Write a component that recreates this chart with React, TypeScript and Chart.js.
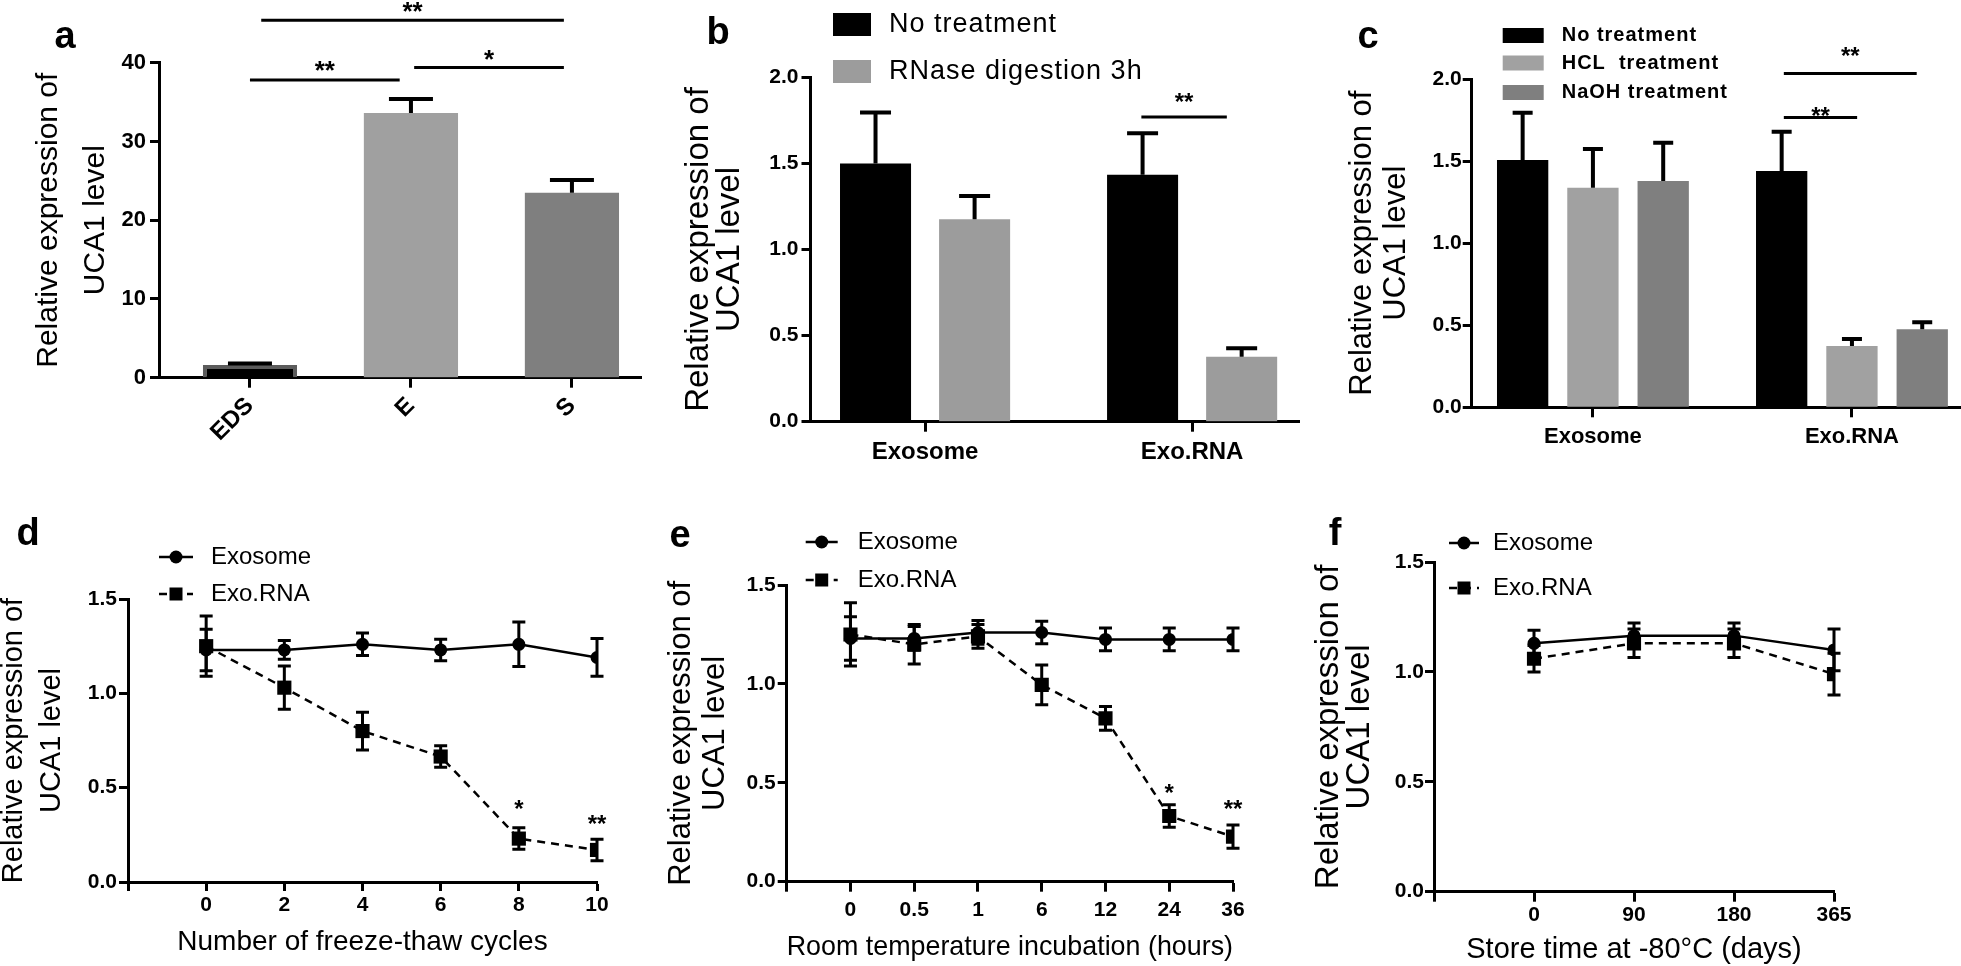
import React, { useEffect, useRef } from 'react';
import { Chart, registerables } from 'chart.js';

Chart.register(...registerables);

const FONT = 'Arial, "Liberation Sans", Helvetica, sans-serif';
Chart.defaults.font.family = FONT;
Chart.defaults.color = '#000000';

// ---------------- data ----------------
const yTitleLines = ['Relative expression of', 'UCA1 level'];

// a
const aCategories = ['EDS', 'E', 'S'];
const aValues = [1.6, 33.6, 23.5];
const aErrors = [0.2, 1.8, 1.6];
const aYTicks = [0, 10, 20, 30, 40];
const aSig = [
  { x0: 0.07, x1: 1.95, y: 45.4, label: '**', ty: 46.3 },
  { x0: 0.0, x1: 0.93, y: 37.8, label: '**', ty: 38.8 },
  { x0: 1.02, x1: 1.95, y: 39.4, label: '*', ty: 40.3 },
];

// b
const bCategories = ['Exosome', 'Exo.RNA'];
const bSeries = ['No treatment', 'RNase digestion 3h'];
const bNoTreatment = [1.5, 1.434];
const bNoTreatmentErr = [0.295, 0.241];
const bRNase = [1.175, 0.377];
const bRNaseErr = [0.135, 0.049];
const bcYTicks = [0, 0.5, 1, 1.5, 2];
const bSig = [{ x0: 0.81, x1: 1.13, y: 1.77, label: '**', ty: 1.85 }];

// c
const cCategories = ['Exosome', 'Exo.RNA'];
const cSeries = ['No treatment', 'HCL  treatment', 'NaOH treatment'];
const cNoTreatment = [1.506, 1.439];
const cNoTreatmentErr = [0.288, 0.24];
const cHCL = [1.337, 0.373];
const cHCLErr = [0.236, 0.043];
const cNaOH = [1.378, 0.475];
const cNaOHErr = [0.234, 0.043];
const cSig = [
  { x0: 0.737, x1: 1.25, y: 2.034, label: '**', ty: 2.133 },
  { x0: 0.737, x1: 1.02, y: 1.766, label: '**', ty: 1.768 },
];

// d, e, f
const lineSeries = ['Exosome', 'Exo.RNA'];
const defYTicks = [0, 0.5, 1, 1.5];

const dX = [0, 2, 4, 6, 8, 10];
const dExosome = [1.23, 1.23, 1.26, 1.23, 1.26, 1.19];
const dExosomeErr = [0.11, 0.05, 0.06, 0.057, 0.118, 0.1];
const dExoRNA = [1.25, 1.03, 0.8, 0.665, 0.23, 0.17];
const dExoRNAErr = [0.16, 0.115, 0.1, 0.057, 0.057, 0.057];
const dSig = [
  { tx: 8, ty: 0.38, label: '*' },
  { tx: 10, ty: 0.3, label: '**' },
];

const eLabels = ['0', '0.5', '1', '6', '12', '24', '36'];
const eExosome = [1.23, 1.23, 1.26, 1.26, 1.225, 1.225, 1.225];
const eExosomeErr = [0.11, 0.06, 0.06, 0.057, 0.057, 0.057, 0.057];
const eExoRNA = [1.25, 1.2, 1.24, 0.995, 0.826, 0.332, 0.228];
const eExoRNAErr = [0.16, 0.1, 0.06, 0.1, 0.06, 0.057, 0.059];
const eSig = [
  { tx: 5, ty: 0.44, label: '*' },
  { tx: 6, ty: 0.36, label: '**' },
];

const fLabels = ['0', '90', '180', '365'];
const fExosome = [1.13, 1.165, 1.165, 1.1];
const fExosomeErr = [0.06, 0.057, 0.057, 0.095];
const fExoRNA = [1.06, 1.13, 1.13, 0.99];
const fExoRNAErr = [0.06, 0.065, 0.065, 0.095];

// ---------------- layout ----------------
type Frame = { L: number; T: number; W: number; H: number; x0: number; x1: number; y0: number; y1: number };

const FRAMES: Record<string, Frame> = {
  a: { L: 0, T: 0, W: 655, H: 485, x0: 159, x1: 641, y0: 62.7, y1: 377.7 },
  b: { L: 665, T: 0, W: 635, H: 485, x0: 810.5, x1: 1300, y0: 77.3, y1: 421.7 },
  c: { L: 1310, T: 0, W: 651, H: 485, x0: 1471.7, x1: 1961, y0: 79, y1: 407.3 },
  d: { L: -10, T: 490, W: 650, H: 476, x0: 128, x1: 597, y0: 599, y1: 882 },
  e: { L: 640, T: 490, W: 660, H: 476, x0: 786.7, x1: 1233, y0: 585, y1: 881.7 },
  f: { L: 1300, T: 490, W: 661, H: 476, x0: 1434, x1: 1834, y0: 562, y1: 891.7 },
};

type AxisSpec = {
  xMin: number;
  xMax: number;
  xTicks: number[];
  xLabel: (v: number) => string;
  xFont: number;
  xPad: number;
  xTickLen: number;
  rotation: number;
  xTitle: null | { text: string; size: number; lineHeight: number; padBottom: number };
  yMax: number;
  yTicks: number[];
  yLabel: (v: number) => string;
  yFont: number;
  yPad: number;
  yTitle: { size: number; lineHeight: number; padTop: number };
};

function buildOptions(f: Frame, s: AxisSpec) {
  const yW = f.x0 - f.L;
  const xH = f.T + f.H - f.y1;
  const grid = (len: number) => ({
    display: true,
    drawOnChartArea: false,
    drawTicks: true,
    offset: false,
    tickLength: len,
    tickWidth: 3,
    tickColor: '#000000',
    color: '#000000',
  });
  return {
    animation: false,
    responsive: false,
    maintainAspectRatio: false,
    devicePixelRatio: 1,
    events: [],
    layout: { padding: { top: f.y0 - f.T, right: f.L + f.W - f.x1, left: 0, bottom: 0 } },
    plugins: { legend: { display: false }, tooltip: { enabled: false }, title: { display: false } },
    scales: {
      x: {
        type: 'linear',
        offset: false,
        min: s.xMin,
        max: s.xMax,
        bounds: 'data',
        afterBuildTicks: (sc: any) => {
          sc.ticks = s.xTicks.map((v) => ({ value: v }));
        },
        afterFit: (sc: any) => {
          sc.height = xH;
        },
        grid: grid(s.xTickLen),
        border: { display: true, color: '#000000', width: 3 },
        ticks: {
          autoSkip: false,
          minRotation: s.rotation,
          maxRotation: s.rotation,
          padding: s.xPad,
          color: '#000000',
          font: { family: FONT, size: s.xFont, weight: 'bold' },
          callback: (v: any) => s.xLabel(Number(v)),
        },
        title: s.xTitle
          ? {
              display: true,
              text: s.xTitle.text,
              color: '#000000',
              font: { family: FONT, size: s.xTitle.size, lineHeight: s.xTitle.lineHeight, weight: 'normal' },
              padding: { top: 0, bottom: s.xTitle.padBottom },
            }
          : { display: false },
      },
      y: {
        type: 'linear',
        offset: false,
        min: 0,
        max: s.yMax,
        bounds: 'data',
        afterBuildTicks: (sc: any) => {
          sc.ticks = s.yTicks.map((v) => ({ value: v }));
        },
        afterFit: (sc: any) => {
          sc.width = yW;
        },
        grid: grid(9),
        border: { display: true, color: '#000000', width: 3 },
        ticks: {
          padding: s.yPad,
          color: '#000000',
          font: { family: FONT, size: s.yFont, weight: 'bold' },
          callback: (v: any) => s.yLabel(Number(v)),
        },
        title: {
          display: true,
          text: yTitleLines,
          color: '#000000',
          font: { family: FONT, size: s.yTitle.size, lineHeight: s.yTitle.lineHeight, weight: 'normal' },
          padding: { top: s.yTitle.padTop, bottom: 0 },
        },
      },
    },
  };
}

// ---------------- plugins ----------------
function errorBarPlugin(upOnly: boolean, capWidth: number, lineWidth: number) {
  return {
    id: 'errorBars',
    afterDatasetsDraw(chart: any) {
      const ctx = chart.ctx;
      const ys = chart.scales.y;
      chart.data.datasets.forEach((ds: any, di: number) => {
        if (!ds.errors) return;
        const meta = chart.getDatasetMeta(di);
        ctx.save();
        ctx.strokeStyle = '#000000';
        ctx.lineWidth = lineWidth;
        ctx.setLineDash([]);
        meta.data.forEach((el: any, i: number) => {
          const v = ds.data[i].y;
          const e = ds.errors[i];
          const x = el.x;
          const top = ys.getPixelForValue(v + e);
          const bottom = upOnly ? ys.getPixelForValue(v) : ys.getPixelForValue(v - e);
          const hw = capWidth / 2;
          ctx.beginPath();
          ctx.moveTo(x, bottom);
          ctx.lineTo(x, top);
          ctx.moveTo(x - hw, top);
          ctx.lineTo(x + hw, top);
          if (!upOnly) {
            ctx.moveTo(x - hw, bottom);
            ctx.lineTo(x + hw, bottom);
          }
          ctx.stroke();
        });
        ctx.restore();
      });
    },
  };
}

function sigPlugin(items: any[], fontSize: number) {
  return {
    id: 'sigMarks',
    afterDraw(chart: any) {
      const { ctx } = chart;
      const xs = chart.scales.x;
      const ys = chart.scales.y;
      ctx.save();
      ctx.strokeStyle = '#000000';
      ctx.fillStyle = '#000000';
      ctx.lineWidth = 3;
      ctx.font = `bold ${fontSize}px ${FONT}`;
      ctx.textAlign = 'center';
      ctx.textBaseline = 'middle';
      items.forEach((it) => {
        let tx = it.tx;
        if (it.x0 !== undefined) {
          const y = ys.getPixelForValue(it.y);
          ctx.beginPath();
          ctx.moveTo(xs.getPixelForValue(it.x0), y);
          ctx.lineTo(xs.getPixelForValue(it.x1), y);
          ctx.stroke();
          if (tx === undefined) tx = (it.x0 + it.x1) / 2;
        }
        ctx.fillText(it.label, xs.getPixelForValue(tx), ys.getPixelForValue(it.ty));
      });
      ctx.restore();
    },
  };
}

type LegendStyle = {
  kind: 'box' | 'line';
  x: number;
  rows: number[];
  textX: number;
  fontSize: number;
  weight: string;
  spacing: number;
  boxW?: number;
  boxH?: number;
  symW?: number;
  circleR?: number;
  rectSize?: number;
};

function legendPlugin(o: LegendStyle) {
  return {
    id: 'panelLegend',
    afterDraw(chart: any) {
      const { ctx, chartArea } = chart;
      ctx.save();
      ctx.font = `${o.weight} ${o.fontSize}px ${FONT}`;
      ctx.textBaseline = 'middle';
      ctx.textAlign = 'left';
      chart.data.datasets.forEach((ds: any, i: number) => {
        const y = chartArea.top + o.rows[i];
        const x = chartArea.left + o.x;
        if (o.kind === 'box') {
          ctx.fillStyle = ds.backgroundColor;
          ctx.fillRect(x, y - (o.boxH as number) / 2, o.boxW as number, o.boxH as number);
        } else {
          const w = o.symW as number;
          ctx.strokeStyle = '#000000';
          ctx.lineWidth = ds.borderWidth;
          ctx.setLineDash(ds.borderDash || []);
          ctx.beginPath();
          ctx.moveTo(x, y);
          ctx.lineTo(x + w, y);
          ctx.stroke();
          ctx.setLineDash([]);
          ctx.fillStyle = '#000000';
          const cx = x + w / 2;
          if (ds.pointStyle === 'rect') {
            const s = o.rectSize as number;
            ctx.fillRect(cx - s / 2, y - s / 2, s, s);
          } else {
            ctx.beginPath();
            ctx.arc(cx, y, o.circleR as number, 0, Math.PI * 2);
            ctx.fill();
          }
        }
        ctx.fillStyle = '#000000';
        if ('letterSpacing' in ctx) (ctx as any).letterSpacing = `${o.spacing}px`;
        ctx.fillText(ds.label, chartArea.left + o.textX, y);
        if ('letterSpacing' in ctx) (ctx as any).letterSpacing = '0px';
      });
      ctx.restore();
    },
  };
}

const fmt1 = (v: number) => v.toFixed(1);
const fmt0 = (v: number) => String(Math.round(v));
const idx = (v: number) => Array.from({ length: v }, (_, i) => i);

// ---------------- configs ----------------
function configA() {
  const f = FRAMES.a;
  return {
    type: 'bar',
    data: {
      datasets: [
        {
          label: 'UCA1',
          data: aValues.map((y, i) => ({ x: i, y })),
          errors: aErrors,
          backgroundColor: ['#000000', '#a0a0a0', '#7f7f7f'],
          borderColor: ['#5c5c5c', '#a0a0a0', '#7f7f7f'],
          borderWidth: [4, 0, 0],
          borderSkipped: 'start',
          categoryPercentage: 0.585,
          barPercentage: 1,
        },
      ],
    },
    options: buildOptions(f, {
      xMin: -0.565,
      xMax: 2.429,
      xTicks: idx(aCategories.length),
      xLabel: (v) => aCategories[v] ?? '',
      xFont: 24,
      xPad: 4,
      xTickLen: 10,
      rotation: 45,
      xTitle: null,
      yMax: 40,
      yTicks: aYTicks,
      yLabel: fmt0,
      yFont: 22,
      yPad: 4,
      yTitle: { size: 30, lineHeight: 1.55, padTop: 25.75 },
    }),
    plugins: [errorBarPlugin(true, 44, 4), sigPlugin(aSig, 26)],
  };
}

function configB() {
  const f = FRAMES.b;
  const mk = (label: string, vals: number[], errs: number[], color: string) => ({
    label,
    data: vals.map((y, i) => ({ x: i, y })),
    errors: errs,
    backgroundColor: color,
    borderWidth: 0,
    categoryPercentage: 0.742,
    barPercentage: 0.717,
  });
  return {
    type: 'bar',
    data: {
      datasets: [
        mk(bSeries[0], bNoTreatment, bNoTreatmentErr, '#000000'),
        mk(bSeries[1], bRNase, bRNaseErr, '#9c9c9c'),
      ],
    },
    options: buildOptions(f, {
      xMin: -0.429,
      xMax: 1.404,
      xTicks: idx(bCategories.length),
      xLabel: (v) => bCategories[v] ?? '',
      xFont: 24,
      xPad: 6,
      xTickLen: 10,
      rotation: 0,
      xTitle: null,
      yMax: 2,
      yTicks: bcYTicks,
      yLabel: fmt1,
      yFont: 21,
      yPad: 3,
      yTitle: { size: 33, lineHeight: 0.95, padTop: 18.3 },
    }),
    plugins: [
      errorBarPlugin(true, 31, 4),
      sigPlugin(bSig, 24),
      legendPlugin({ kind: 'box', x: 22.5, rows: [-52.8, -5.8], textX: 78.5, fontSize: 27, weight: 'normal', spacing: 1, boxW: 38, boxH: 23 }),
    ],
  };
}

function configC() {
  const f = FRAMES.c;
  const mk = (label: string, vals: number[], errs: number[], color: string) => ({
    label,
    data: vals.map((y, i) => ({ x: i, y })),
    errors: errs,
    backgroundColor: color,
    borderWidth: 0,
    categoryPercentage: 0.814,
    barPercentage: 0.73,
  });
  return {
    type: 'bar',
    data: {
      datasets: [
        mk(cSeries[0], cNoTreatment, cNoTreatmentErr, '#000000'),
        mk(cSeries[1], cHCL, cHCLErr, '#a1a1a1'),
        mk(cSeries[2], cNaOH, cNaOHErr, '#7f7f7f'),
      ],
    },
    options: buildOptions(f, {
      xMin: -0.468,
      xMax: 1.421,
      xTicks: idx(cCategories.length),
      xLabel: (v) => cCategories[v] ?? '',
      xFont: 22,
      xPad: 6.5,
      xTickLen: 10,
      rotation: 0,
      xTitle: null,
      yMax: 2,
      yTicks: bcYTicks,
      yLabel: fmt1,
      yFont: 21,
      yPad: 1,
      yTitle: { size: 31, lineHeight: 1.1, padTop: 35 },
    }),
    plugins: [
      errorBarPlugin(true, 20, 4),
      sigPlugin(cSig, 24),
      legendPlugin({ kind: 'box', x: 31, rows: [-43.5, -16, 13.5], textX: 90, fontSize: 20, weight: 'bold', spacing: 1, boxW: 41, boxH: 15 }),
    ],
  };
}

function lineDatasets(xs: number[], exo: number[], exoErr: number[], rna: number[], rnaErr: number[]) {
  return [
    {
      label: lineSeries[0],
      data: exo.map((y, i) => ({ x: xs[i], y })),
      errors: exoErr,
      borderColor: '#000000',
      backgroundColor: '#000000',
      borderWidth: 2.5,
      pointStyle: 'circle',
      pointRadius: 6.5,
      pointBackgroundColor: '#000000',
      pointBorderWidth: 0,
      tension: 0,
    },
    {
      label: lineSeries[1],
      data: rna.map((y, i) => ({ x: xs[i], y })),
      errors: rnaErr,
      borderColor: '#000000',
      backgroundColor: '#000000',
      borderWidth: 2.5,
      borderDash: [8, 6],
      pointStyle: 'rect',
      pointRadius: 10,
      pointBackgroundColor: '#000000',
      pointBorderWidth: 0,
      tension: 0,
    },
  ];
}

function configD() {
  const f = FRAMES.d;
  return {
    type: 'line',
    data: { datasets: lineDatasets(dX, dExosome, dExosomeErr, dExoRNA, dExoRNAErr) },
    options: buildOptions(f, {
      xMin: -2,
      xMax: 10,
      xTicks: [-2, ...dX],
      xLabel: (v) => (dX.includes(v) ? String(v) : ''),
      xFont: 21,
      xPad: 1.4,
      xTickLen: 9,
      rotation: 0,
      xTitle: { text: 'Number of freeze-thaw cycles', size: 28, lineHeight: 1.2, padBottom: 7.2 },
      yMax: 1.5,
      yTicks: defYTicks,
      yLabel: fmt1,
      yFont: 21,
      yPad: 2,
      yTitle: { size: 29, lineHeight: 1.31, padTop: 5 },
    }),
    plugins: [
      errorBarPlugin(false, 13, 3),
      sigPlugin(dSig, 24),
      legendPlugin({ kind: 'line', x: 31, rows: [-42, -5], textX: 83, fontSize: 24, weight: 'normal', spacing: 0, symW: 34, circleR: 6.5, rectSize: 13 }),
    ],
  };
}

function configE() {
  const f = FRAMES.e;
  const xs = idx(eLabels.length);
  return {
    type: 'line',
    data: { datasets: lineDatasets(xs, eExosome, eExosomeErr, eExoRNA, eExoRNAErr) },
    options: buildOptions(f, {
      xMin: -1,
      xMax: eLabels.length - 1,
      xTicks: [-1, ...xs],
      xLabel: (v) => eLabels[v] ?? '',
      xFont: 21,
      xPad: 5.7,
      xTickLen: 10,
      rotation: 0,
      xTitle: { text: 'Room temperature incubation (hours)', size: 28, lineHeight: 1.2, padBottom: 2.2 },
      yMax: 1.5,
      yTicks: defYTicks,
      yLabel: fmt1,
      yFont: 21,
      yPad: 2,
      yTitle: { size: 31, lineHeight: 1.1, padTop: 24 },
    }),
    plugins: [
      errorBarPlugin(false, 13, 3),
      sigPlugin(eSig, 24),
      legendPlugin({ kind: 'line', x: 19, rows: [-43, -5], textX: 71, fontSize: 24, weight: 'normal', spacing: 0, symW: 32, circleR: 6.5, rectSize: 13 }),
    ],
  };
}

function configF() {
  const f = FRAMES.f;
  const xs = idx(fLabels.length);
  return {
    type: 'line',
    data: { datasets: lineDatasets(xs, fExosome, fExosomeErr, fExoRNA, fExoRNAErr) },
    options: buildOptions(f, {
      xMin: -1,
      xMax: fLabels.length - 1,
      xTicks: [-1, ...xs],
      xLabel: (v) => fLabels[v] ?? '',
      xFont: 21,
      xPad: 0.7,
      xTickLen: 10,
      rotation: 0,
      xTitle: { text: 'Store time at -80°C (days)', size: 29, lineHeight: 1.1, padBottom: 0 },
      yMax: 1.5,
      yTicks: defYTicks,
      yLabel: fmt1,
      yFont: 21,
      yPad: 1,
      yTitle: { size: 33, lineHeight: 0.95, padTop: 13.3 },
    }),
    plugins: [
      errorBarPlugin(false, 13, 3),
      legendPlugin({ kind: 'line', x: 15, rows: [-19, 26], textX: 59, fontSize: 24, weight: 'normal', spacing: 0, symW: 30, circleR: 6.5, rectSize: 13 }),
    ],
  };
}

// ---------------- components ----------------
function Panel({ frame, build }: { frame: Frame; build: () => any }) {
  const ref = useRef<HTMLCanvasElement>(null);
  useEffect(() => {
    const canvas = ref.current;
    if (!canvas) return;
    const chart = new Chart(canvas, build());
    return () => chart.destroy();
  }, []);
  return (
    <canvas
      ref={ref}
      width={frame.W}
      height={frame.H}
      style={{ position: 'absolute', left: frame.L, top: frame.T, width: frame.W, height: frame.H }}
    />
  );
}

const panelLetters = [
  { t: 'a', x: 65, y: 35 },
  { t: 'b', x: 718, y: 31 },
  { t: 'c', x: 1368, y: 35 },
  { t: 'd', x: 28, y: 532 },
  { t: 'e', x: 680, y: 534 },
  { t: 'f', x: 1335, y: 532 },
];

export default function App() {
  return (
    <div
      style={{
        position: 'absolute',
        left: 0,
        top: 0,
        width: 1961,
        height: 966,
        background: '#ffffff',
        overflow: 'hidden',
      }}
    >
      <Panel frame={FRAMES.a} build={configA} />
      <Panel frame={FRAMES.b} build={configB} />
      <Panel frame={FRAMES.c} build={configC} />
      <Panel frame={FRAMES.d} build={configD} />
      <Panel frame={FRAMES.e} build={configE} />
      <Panel frame={FRAMES.f} build={configF} />
      {panelLetters.map((p) => (
        <div
          key={p.t}
          style={{
            position: 'absolute',
            left: p.x,
            top: p.y,
            transform: 'translate(-50%, -50%)',
            fontFamily: FONT,
            fontWeight: 'bold',
            fontSize: 38,
            lineHeight: 1,
            color: '#000',
          }}
        >
          {p.t}
        </div>
      ))}
    </div>
  );
}
